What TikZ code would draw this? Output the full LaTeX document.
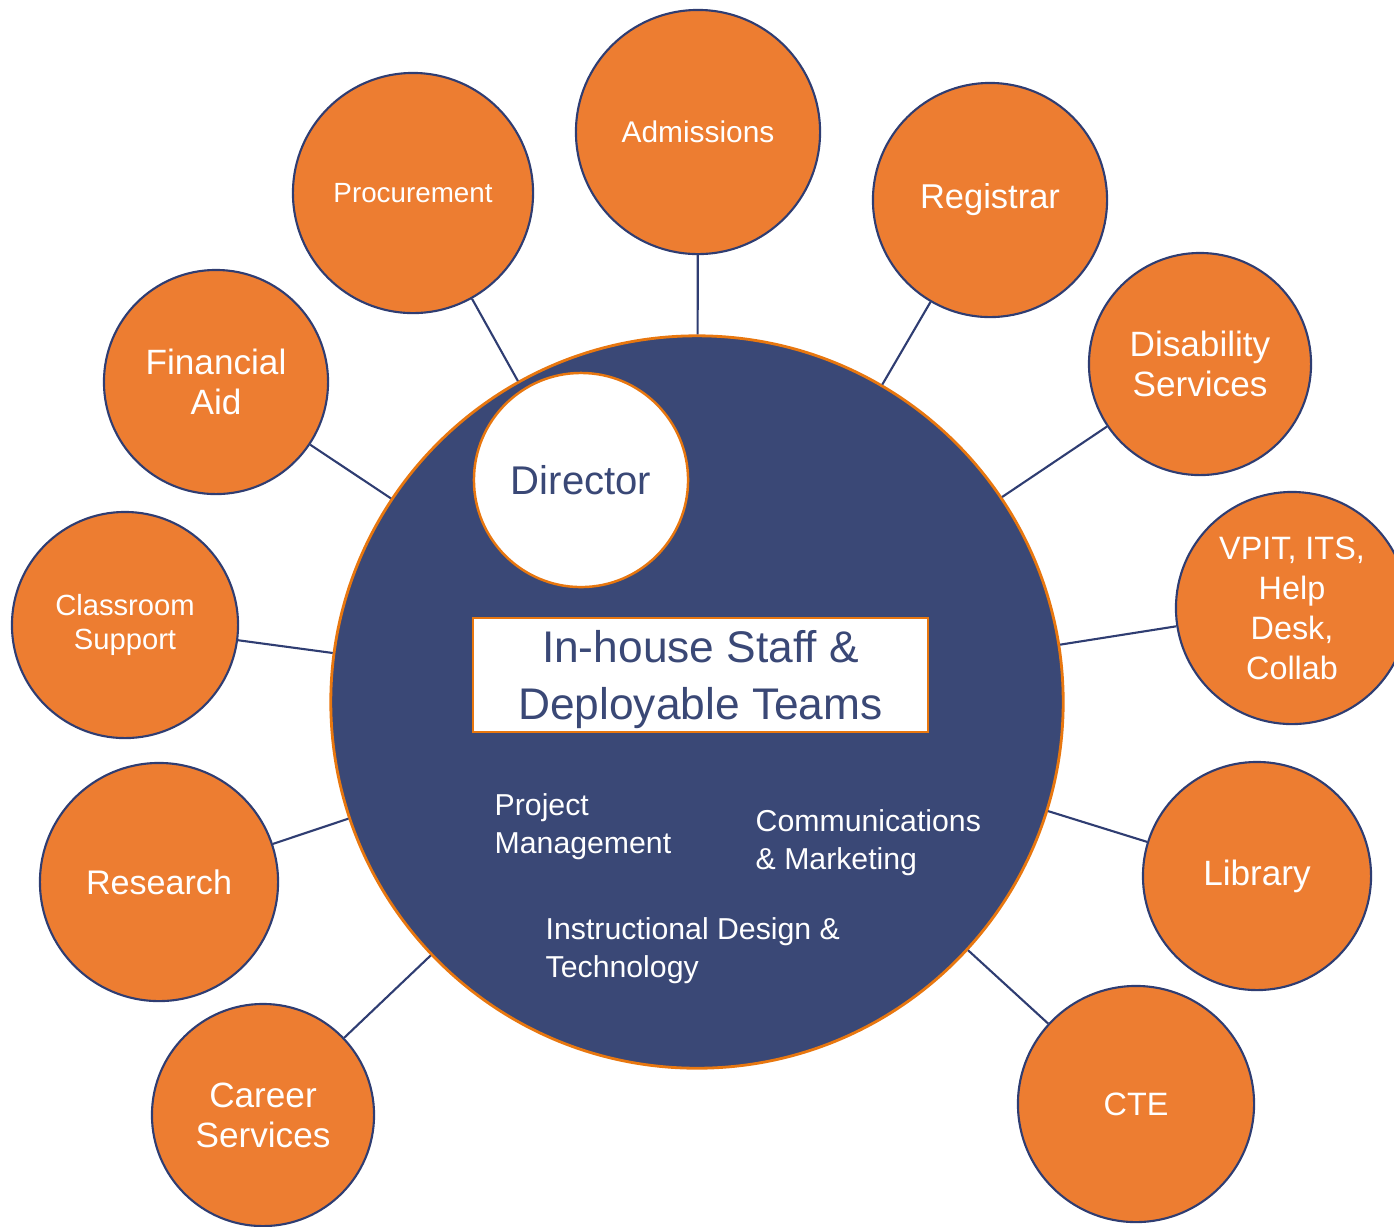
\documentclass[tikz,border=0pt]{standalone}
\usepackage{fontspec}
\setmainfont{Liberation Sans}
\definecolor{unitorange}{HTML}{ED7D31}
\definecolor{hubblue}{HTML}{3A4876}
\definecolor{rimblue}{HTML}{2F3D72}
\definecolor{rimorange}{HTML}{E8770F}
\tikzset{
	unit/.style={circle,draw=rimblue,line width=0.6pt,fill=unitorange,text=white,inner sep=0pt,align=center,minimum size=#1},
	team/.style={text=white,align=left,anchor=base west,inner sep=0pt,font=\fontsize{8.6}{10.6}\selectfont},
	link/.style={rimblue,line width=0.6pt}
}

\begin{document}
\begin{tikzpicture}[x=0.01cm,y=-0.01cm]
			\useasboundingbox (0,0) rectangle (1394,1226);
			\draw (697,702) node [circle,fill=hubblue,draw=rimorange,line width=0.8pt,minimum size=7.32cm] (hub) {};
			\draw (581,480) node [circle,fill=white,draw=rimorange,line width=0.7pt,minimum size=2.14cm,text=hubblue,font=\fontsize{11.4}{13}\selectfont] (dir) {Director};
			\draw (700.5,675) node [draw=rimorange,fill=white,line width=0.7pt,inner sep=0pt,text depth=0pt,minimum width=4.55cm,minimum height=1.14cm,text=hubblue,align=center,font=\fontsize{12.6}{16.2}\selectfont] (staff) {In-house Staff \&\\Deployable Teams};
			\draw (494,853) node [team] (pm) {Project\\Management};
			\draw (755,869) node [team] (cm) {Communications\\\& Marketing};
			\draw (545,977) node [team] (idt) {Instructional Design \&\\Technology};
			\draw (698,132) node [unit=2.44cm,font=\fontsize{8.5}{10}\selectfont] (adm) {Admissions};
			\draw (413,193) node [unit=2.40cm,font=\fontsize{7.9}{9}\selectfont] (proc) {Procurement};
			\draw (990,200) node [unit=2.34cm,font=\fontsize{9.8}{11.4}\selectfont] (reg) {Registrar};
			\draw (216,382) node [unit=2.24cm,font=\fontsize{10}{11.4}\selectfont] (fin) {Financial\\Aid};
			\draw (1200,364) node [unit=2.22cm,font=\fontsize{10}{11.4}\selectfont] (dis) {Disability\\Services};
			\draw (125,625) node [unit=2.26cm,font=\fontsize{8.3}{9.7}\selectfont] (cls) {Classroom\\Support};
			\draw (1292,608) node [unit=2.32cm,font=\fontsize{9.2}{11.4}\selectfont] (vpit) {VPIT, ITS,\\Help\\Desk,\\Collab};
			\draw (159,882) node [unit=2.38cm,font=\fontsize{9.7}{11.4}\selectfont] (res) {Research};
			\draw (1257,876) node [unit=2.28cm,font=\fontsize{10}{11.4}\selectfont] (lib) {Library};
			\draw (263,1115) node [unit=2.22cm,font=\fontsize{10}{11.4}\selectfont] (car) {Career\\Services};
			\draw (1136,1104) node [unit=2.36cm,font=\fontsize{9.2}{11}\selectfont] (cte) {CTE};
			\path[link]
				(hub) edge (adm)
					edge (proc)
					edge (reg)
					edge (fin)
					edge (dis)
					edge (cls)
					edge (vpit)
					edge (res)
					edge (lib)
					edge (car)
					edge (cte);
		\end{tikzpicture}
\end{document}
